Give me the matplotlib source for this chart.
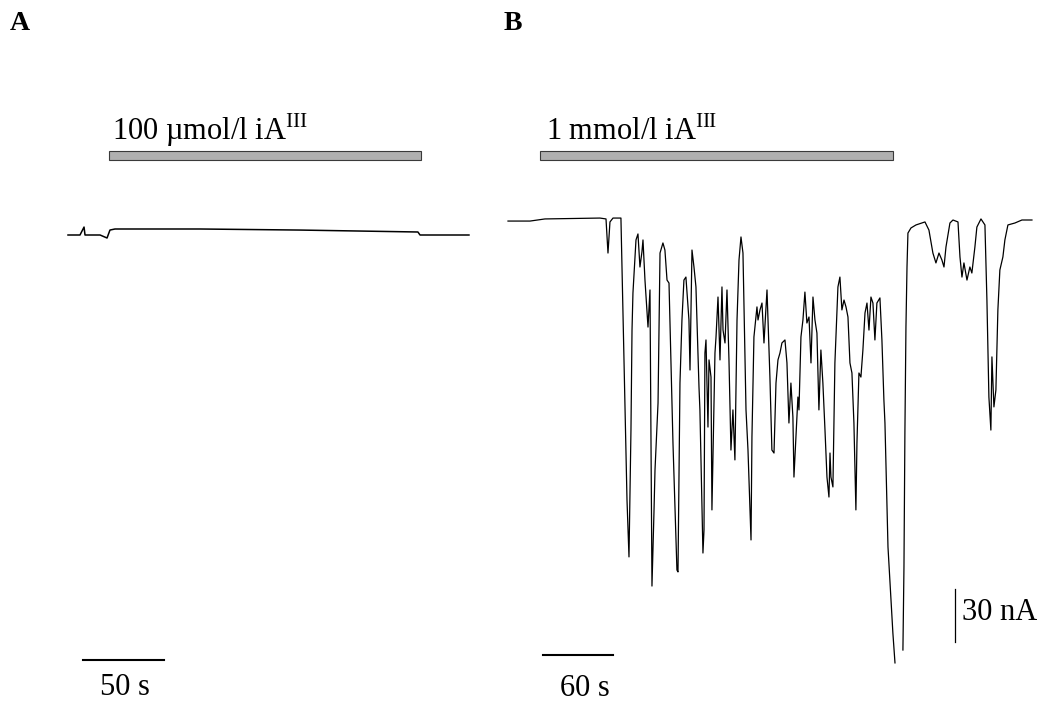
import matplotlib
matplotlib.use("Agg")
import matplotlib.pyplot as plt
from matplotlib.patches import Rectangle

plt.rcParams['font.family'] = ['Liberation Serif', 'DejaVu Serif']
plt.rcParams['mathtext.fontset'] = 'custom'
plt.rcParams['mathtext.rm'] = 'Liberation Serif'

# Panel A trace: time (s), current (nA), 100 umol/l iA(III)
time_a = [0, 7.4, 9.9, 10.5, 19.8, 24.1, 25.9, 29.0, 81.5, 143.2, 216.0, 217.3, 247.5]
curr_a = [-1.7, -1.7, 2.8, -1.7, -1.7, -3.4, 1.1, 1.7, 1.7, 1.1, 0.0, -1.7, -1.7]

# Panel B trace: time (s), current (nA), 1 mmol/l iA(III)
# (trace runs off scale between 331.7 s and 338.5 s -> None breaks the line)
time_b = [0, 18.9, 31.7, 78.8, 84.0, 85.7, 87.4, 90.0, 96.8, 100.3, 102.0, 103.7, 105.4, 106.3,
          107.1, 109.7, 111.4, 113.1, 114.8, 115.7, 117.4, 120.0, 121.7, 123.4, 125.1, 126.0,
          128.6, 130.3, 132.8, 134.5, 136.3, 138.0, 141.4, 144.8, 145.7, 147.4, 149.1, 150.8,
          152.5, 155.1, 156.0, 157.7, 159.4, 161.1, 163.7, 164.5, 167.1, 168.0, 168.8, 169.7,
          171.4, 172.3, 174.0, 174.8, 177.4, 178.3, 180.0, 181.7, 183.4, 184.3, 186.0, 187.7,
          189.4, 191.1, 192.8, 194.5, 196.3, 198.0, 199.7, 201.4, 204.0, 205.7, 208.3, 209.1,
          210.8, 213.4, 214.3, 216.0, 217.7, 219.4, 222.0, 224.5, 226.2, 228.0, 229.7, 231.4,
          233.1, 234.8, 237.4, 239.1, 240.8, 242.5, 244.2, 245.1, 246.8, 248.5, 249.4, 251.1,
          252.8, 254.5, 256.2, 258.0, 259.7, 261.4, 263.1, 264.8, 266.5, 268.2, 269.9, 271.7,
          273.4, 275.1, 276.0, 276.8, 278.5, 280.2, 282.8, 284.5, 286.2, 288.0, 289.7, 291.4,
          293.1, 294.8, 296.5, 298.2, 299.1, 300.8, 302.5, 304.2, 306.0, 307.7, 309.4, 311.1,
          312.8, 314.5, 316.2, 318.8, 320.5, 322.2, 323.1, 324.8, 325.7, 329.9, 331.7, 335.0, 338.5,
          339.4, 340.2, 341.1, 342.0, 342.8, 345.4, 349.7, 357.4, 360.8, 364.2, 366.8, 369.4,
          371.9, 373.7, 375.4, 378.8, 381.4, 385.7, 387.4, 389.1, 390.8, 393.4, 395.9, 397.6,
          400.2, 401.9, 405.4, 408.8, 410.5, 412.2, 413.9, 414.8, 416.5, 418.2, 419.9, 421.6,
          424.2, 425.9, 428.5, 434.5, 440.5, 449.1]
curr_b = [-0.6, -0.6, 0.6, 1.1, 0.6, -18.7, -1.1, 1.1, 1.1, -105.8, -158.5, -190.7, -118.9, -62.3,
          -41.3, -11.3, -7.9, -26.6, -18.1, -11.3, -34.0, -60.6, -39.6, -207.2, -165.8, -141.5,
          -103.6, -18.7, -13.0, -17.0, -34.0, -35.7, -126.2, -198.1, -199.2, -92.3, -56.6, -34.0,
          -32.3, -56.6, -84.9, -17.0, -26.6, -37.9, -94.5, -107.5, -188.5, -175.5, -75.3, -67.9,
          -117.2, -79.2, -88.9, -164.1, -75.3, -66.2, -43.6, -79.2, -37.9, -62.3, -69.6, -39.6,
          -79.2, -130.2, -107.5, -135.8, -56.6, -22.6, -9.6, -18.7, -107.5, -130.2, -181.1, -122.8,
          -66.2, -49.2, -56.6, -50.9, -47.0, -69.6, -39.6, -88.9, -130.2, -131.9, -92.3, -79.2,
          -75.3, -69.6, -67.9, -80.9, -114.9, -92.3, -111.5, -145.5, -122.8, -100.2, -107.5, -66.2,
          -56.6, -40.8, -58.3, -54.9, -80.9, -43.6, -56.6, -64.0, -107.5, -73.6, -92.3, -118.9,
          -145.5, -156.8, -131.9, -145.5, -151.1, -80.9, -37.9, -32.3, -50.9, -45.3, -49.2, -54.9,
          -80.9, -86.6, -114.9, -164.1, -126.2, -86.6, -88.9, -73.6, -52.6, -47.0, -62.3, -43.6,
          -47.0, -67.9, -47.0, -44.1, -67.9, -101.9, -114.9, -162.4, -185.1, -233.8, -250.7, None, -243.4,
          -196.4, -120.6, -60.6, -26.6, -7.4, -4.5, -2.8, -1.1, -5.7, -18.7, -24.3, -18.7,
          -22.6, -26.6, -15.3, -1.7, 0.0, -1.1, -20.9, -32.3, -24.3, -34.0, -26.6, -30.0,
          -15.3, -4.0, 0.6, -2.8, -45.3, -100.2, -118.9, -77.5, -105.8, -96.2, -50.9, -28.3,
          -20.9, -11.3, -2.8, -1.7, 0.0, 0.0]

# application periods (s) and labels
app_a = (25, 218)
app_b = (27, 330)
label_a = "100 \u00b5mol/l iA$^{\\mathrm{III}}$"
label_b = "1 mmol/l iA$^{\\mathrm{III}}$"

W, H = 1048, 702
fig = plt.figure(figsize=(W / 100, H / 100), dpi=100)

# pixel scales of the recording
px_s_a = 81 / 50
px_s_b = 70 / 60
px_na = 53 / 30


def px_axes(x0, x1, t0_px, zero_px, px_s):
    # axes spanning full height, x from x0 to x1 (pixels), t=0 at t0_px, I=0 at zero_px
    ax = fig.add_axes([x0 / W, 0, (x1 - x0) / W, 1])
    ax.set_xlim((x0 - t0_px) / px_s, (x1 - t0_px) / px_s)
    ax.set_ylim(-(H - zero_px) / px_na, zero_px / px_na)
    ax.axis('off')
    return ax


axA = px_axes(60, 480, 68, 232, px_s_a)
axB = px_axes(500, 1048, 508, 220, px_s_b)

curr_b = [float('nan') if v is None else v for v in curr_b]
axA.plot(time_a, curr_a, color='black', lw=1.1)
axB.plot(time_b, curr_b, color='black', lw=0.9)

# drug application bars
axA.add_patch(Rectangle((app_a[0], 41.0), app_a[1] - app_a[0], 4.8,
                        facecolor='#b0b0b0', edgecolor='#3a3a3a', lw=0.8))
axB.add_patch(Rectangle((app_b[0], 34.2), app_b[1] - app_b[0], 4.8,
                        facecolor='#b0b0b0', edgecolor='#3a3a3a', lw=0.8))
axA.text(27.0, 52.0, label_a, fontsize=22, ha='left', va='baseline')
axB.text(33.0, 45.3, label_b, fontsize=22, ha='left', va='baseline')

# scale bars
axA.plot([9.3, 9.3 + 50], [-242.3, -242.3], color='black', lw=1.5)
axA.text(35.0, -258.0, "50 s", fontsize=22, ha='center', va='center')
axB.plot([30, 30 + 60], [-246.2, -246.2], color='black', lw=1.5)
axB.text(66.0, -265.0, "60 s", fontsize=22, ha='center', va='center')
axB.plot([383.1, 383.1], [-209, -239], color='black', lw=0.9)
axB.text(389.0, -222.0, "30 nA", fontsize=22, ha='left', va='center')

fig.text(10 / W, 1 - 23 / H, "A", fontsize=20, fontweight='bold', ha='left', va='center')
fig.text(504 / W, 1 - 23 / H, "B", fontsize=20, fontweight='bold', ha='left', va='center')

fig.savefig("out.png", dpi=100)
